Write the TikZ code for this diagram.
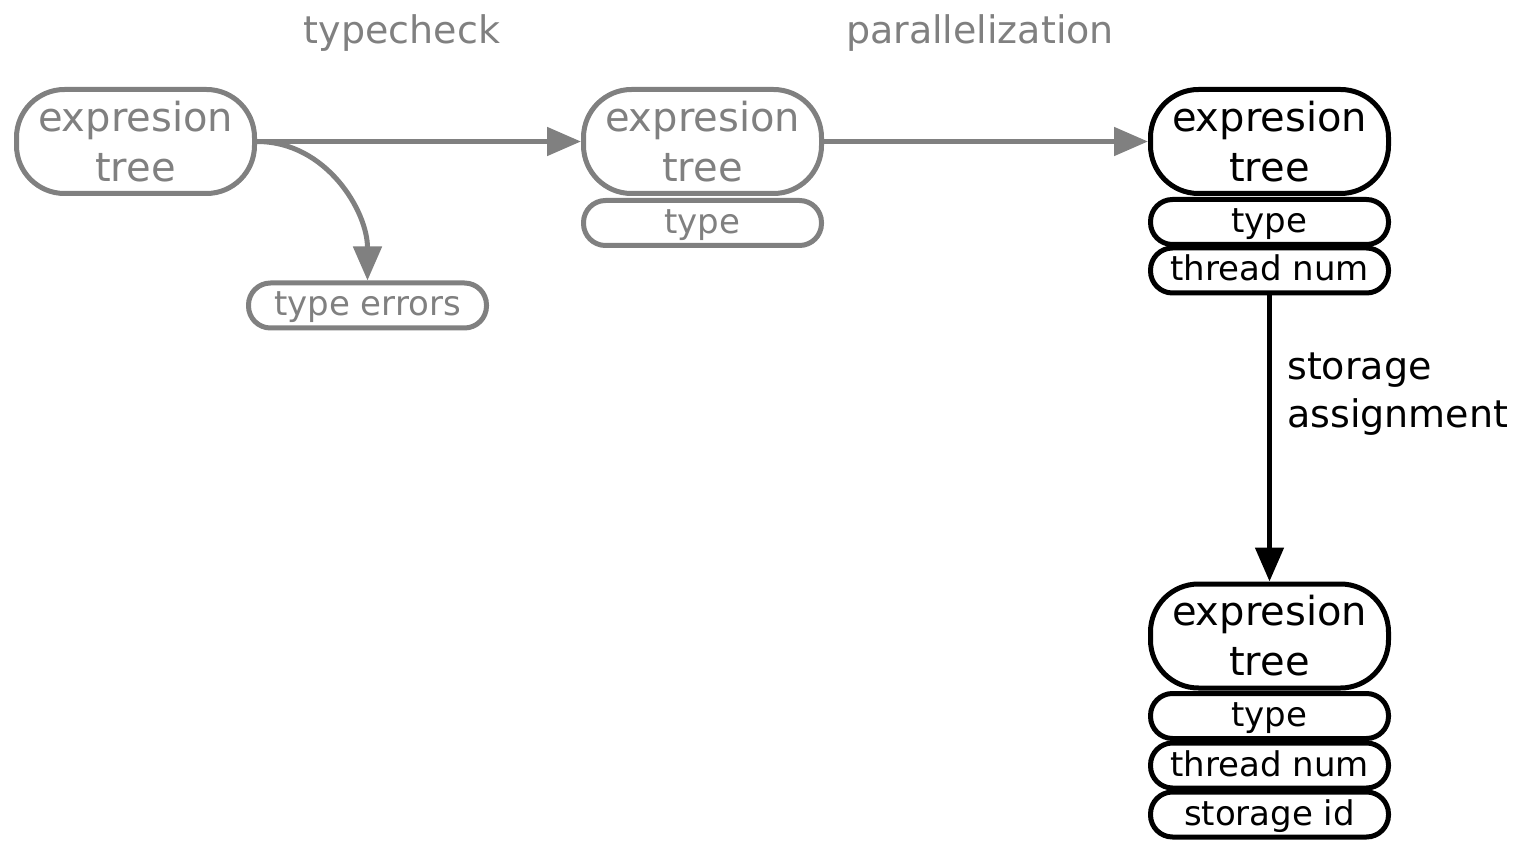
\documentclass[tikz,border=0pt]{standalone}
\usepackage{fontspec}
\setmainfont{DejaVu Sans}
\usetikzlibrary{arrows.meta}
\definecolor{gr}{HTML}{808080}
\begin{document}
\begin{tikzpicture}[x=1pt,y=-1pt,
 big/.style={draw, line width=5pt, rounded corners=48pt, minimum width=238pt, minimum height=104pt, inner sep=0pt, align=center, font=\fontsize{40}{50}\selectfont, fill=white},
 small/.style={draw, line width=5pt, rounded corners=22pt, minimum width=238pt, minimum height=45pt, inner sep=0pt, text height=24.5pt, text depth=3.5pt, font=\fontsize{34}{40}\selectfont, fill=white},
 lbl/.style={font=\fontsize{38}{48}\selectfont, inner sep=0pt},
 arr/.style={line width=5pt, -{Triangle[length=34pt,width=28pt]}},
 grey/.style={draw=gr, text=gr},
]
\useasboundingbox (0,0) rectangle (1519,842);
% gray part
\node[big, grey] (A) at (135.5,141.5) {expresion\\tree};
\node[small, grey] (TE) at (367.5,305.5) {type errors};
\node[small, grey] (Bt) at (702.5,223) {type};
\node[big, grey] (B) at (702.5,141.5) {expresion\\tree};
% black part
\node[small] (Ct2) at (1269.5,270.5) {thread num};
\node[small] (Ct1) at (1269.5,222) {type};
\node[big] (C) at (1269.5,141.5) {expresion\\tree};
\node[small] (Dt3) at (1269.5,814.5) {storage id};
\node[small] (Dt2) at (1269.5,765.5) {thread num};
\node[small] (Dt1) at (1269.5,716) {type};
\node[big] (D) at (1269.5,636) {expresion\\tree};
% labels
\node[lbl, text=gr] (L1) at (402,33) {typecheck};
\node[lbl, text=gr] (L2) at (980,33) {parallelization};
\node[lbl, anchor=west, align=left] (L3) at (1287,394) {storage\\assignment};
% connectors
\draw[arr, color=gr] (A) -- (B);
\draw[arr, color=gr] (A.east) to[out=0, in=90] (TE.north);
\draw[arr, color=gr] (B) -- (C);
\draw[arr] (Ct2) -- (D);
\end{tikzpicture}
\end{document}
